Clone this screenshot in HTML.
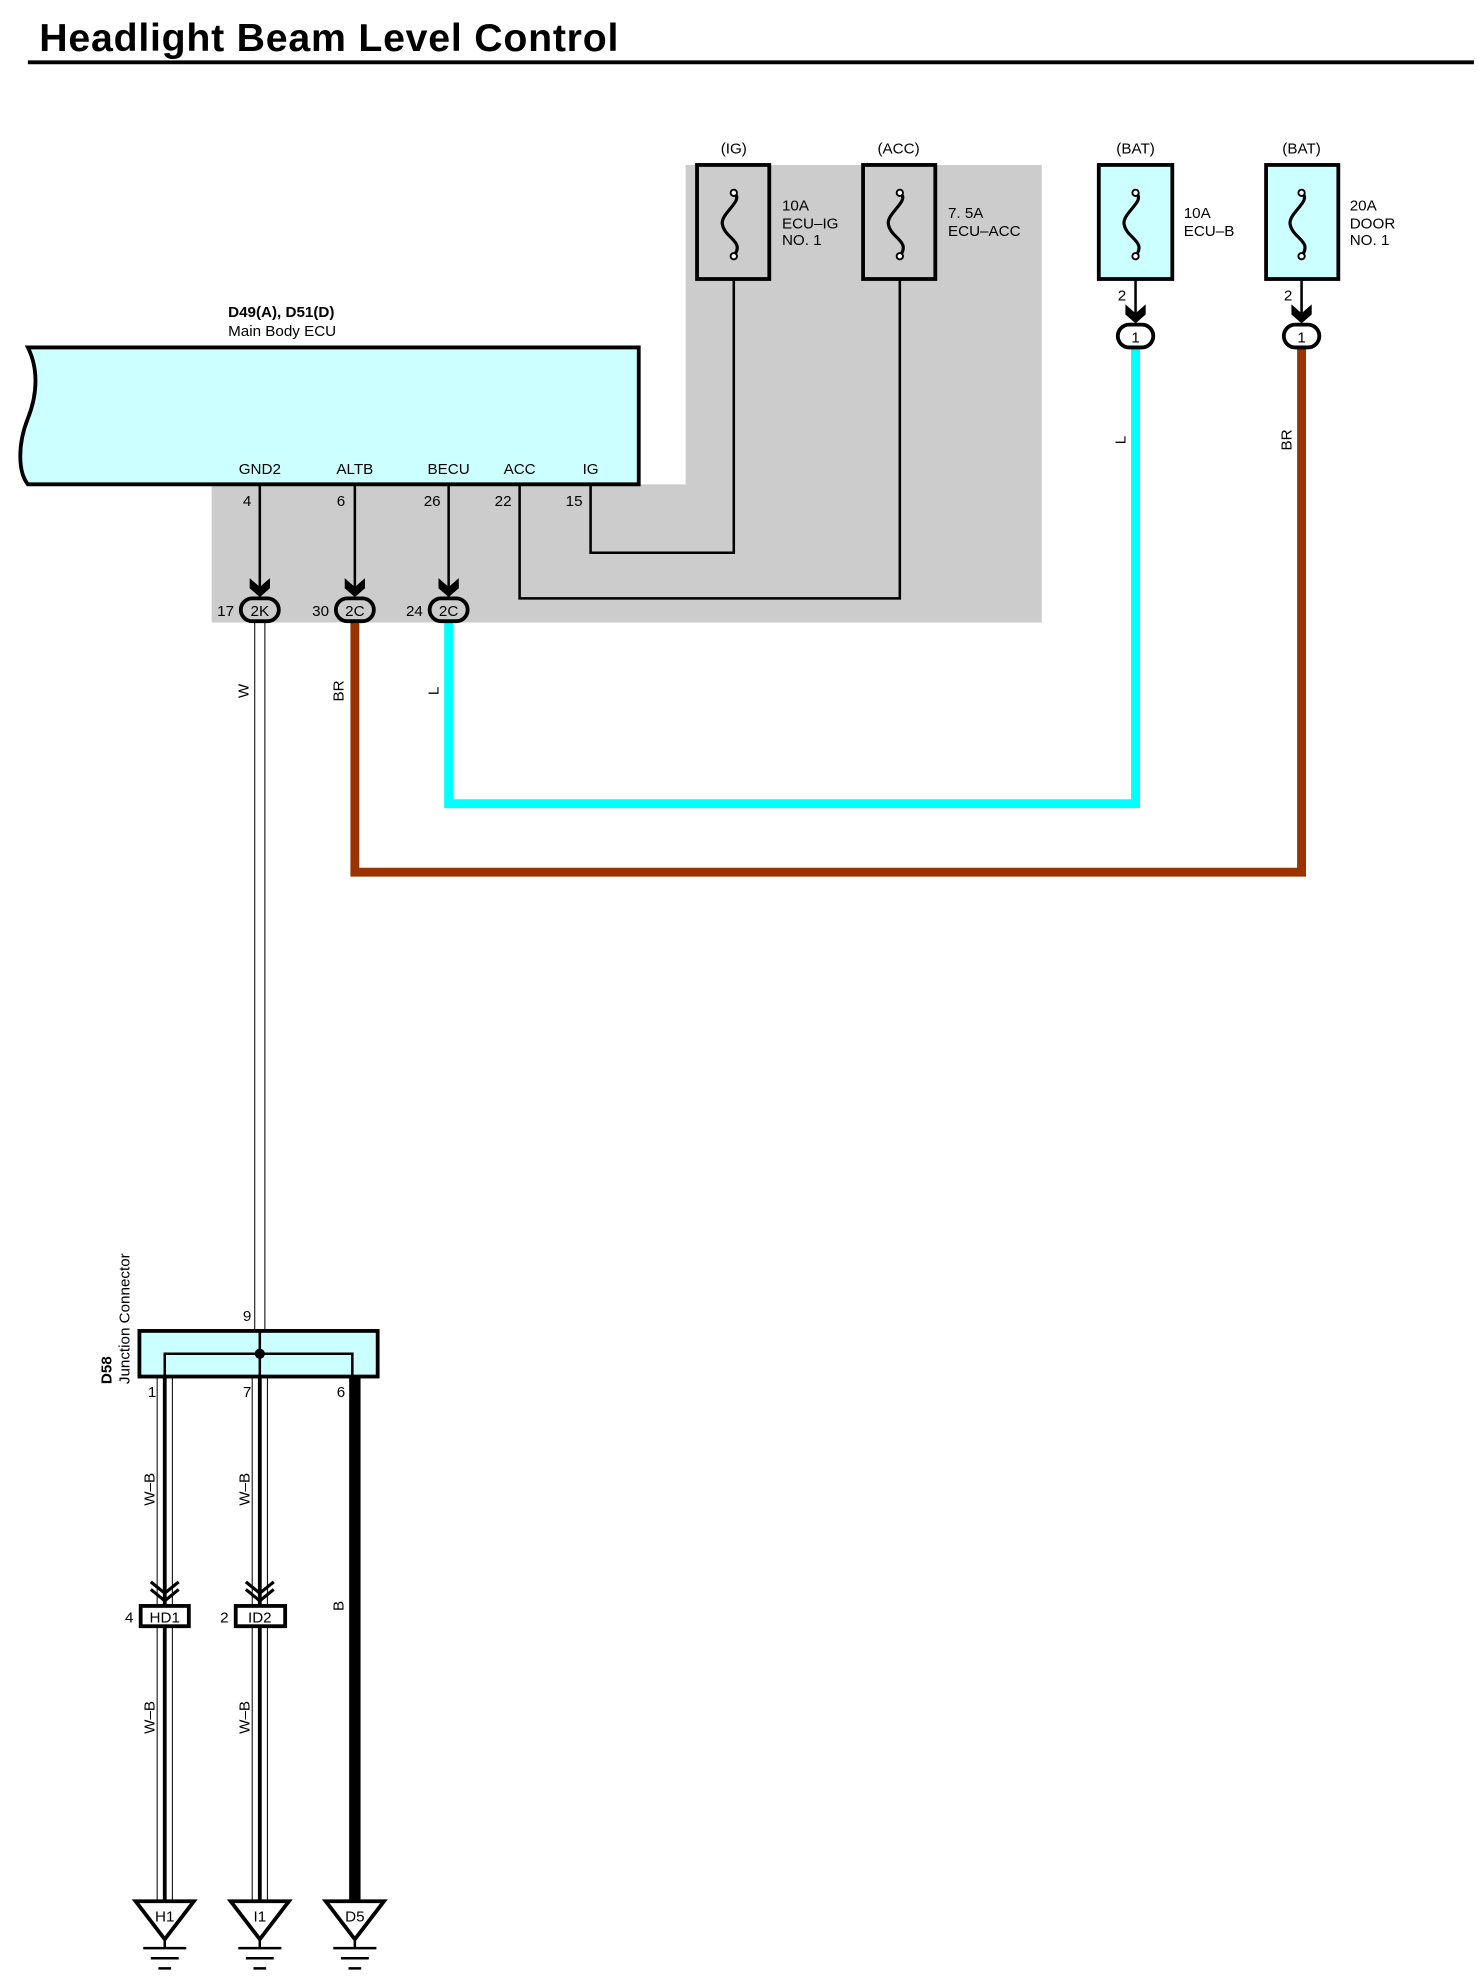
<!DOCTYPE html>
<html><head><meta charset="utf-8"><style>html,body{margin:0;padding:0;background:#fff}svg{display:block}</style></head>
<body>
<svg width="1479" height="1980" viewBox="0 0 1167 1562" xmlns="http://www.w3.org/2000/svg" font-family="Liberation Sans, sans-serif">
<rect width="1167" height="1562" fill="#fff"/>
<text x="31" y="40" font-size="31" font-weight="bold" letter-spacing="0.6">Headlight Beam Level Control</text>
<line x1="22" y1="49" x2="1163" y2="49" stroke="#000" stroke-width="3"/>
<polygon points="541,130 822,130 822,491 167,491 167,382 541,382" fill="#cccccc"/>
<!-- fuses -->
<g stroke="#000" stroke-width="3">
<rect x="550" y="130" width="57" height="90" fill="none"/>
<rect x="681" y="130" width="57" height="90" fill="none"/>
<rect x="867" y="130" width="58" height="90" fill="#ccffff"/>
<rect x="999" y="130" width="57" height="90" fill="#ccffff"/>
</g>
<g fill="none" stroke="#000" stroke-width="2.5">
<path d="M579,152 C588,158 568,168 570,177 C572,188 588,190 579,202"/>
<path d="M710,152 C719,158 699,168 701,177 C703,188 719,190 710,202"/>
<path d="M896,152 C905,158 885,168 887,177 C889,188 905,190 896,202"/>
<path d="M1027,152 C1036,158 1016,168 1018,177 C1020,188 1036,190 1027,202"/>
</g>
<g fill="#fff" stroke="#000" stroke-width="1.5">
<circle cx="579" cy="152" r="2.5"/><circle cx="579" cy="202" r="2.5"/>
<circle cx="710" cy="152" r="2.5"/><circle cx="710" cy="202" r="2.5"/>
<circle cx="896" cy="152" r="2.5"/><circle cx="896" cy="202" r="2.5"/>
<circle cx="1027" cy="152" r="2.5"/><circle cx="1027" cy="202" r="2.5"/>
</g>
<g font-size="12" text-anchor="middle">
<text x="579" y="121">(IG)</text><text x="709" y="121">(ACC)</text>
<text x="896" y="121">(BAT)</text><text x="1027" y="121">(BAT)</text>
</g>
<g font-size="12">
<text x="617" y="166">10A</text><text x="617" y="180">ECU–IG</text><text x="617" y="193">NO. 1</text>
<text x="748" y="172">7. 5A</text><text x="748" y="186">ECU–ACC</text>
<text x="934" y="172">10A</text><text x="934" y="186">ECU–B</text>
<text x="1065" y="166">20A</text><text x="1065" y="180">DOOR</text><text x="1065" y="193">NO. 1</text>
<text x="882" y="237">2</text><text x="1013" y="237">2</text>
</g>
<!-- ECU -->
<path d="M22,274 L504,274 L504,382 L22,382 C14,372 14,350 22,330 C30,310 30,290 22,274 Z" fill="#ccffff" stroke="#000" stroke-width="3"/>
<text x="180" y="250" font-size="12" font-weight="bold">D49(A), D51(D)</text>
<text x="180" y="265" font-size="12">Main Body ECU</text>
<g font-size="12" text-anchor="middle">
<text x="205" y="374">GND2</text><text x="280" y="374">ALTB</text><text x="354" y="374">BECU</text><text x="410" y="374">ACC</text><text x="466" y="374">IG</text>
<text x="195" y="399">4</text><text x="269" y="399">6</text><text x="341" y="399">26</text><text x="397" y="399">22</text><text x="453" y="399">15</text>
<text x="178" y="486">17</text><text x="253" y="486">30</text><text x="327" y="486">24</text>
</g>
<g fill="none" stroke="#000" stroke-width="2">
<path d="M205,382 V466 M280,382 V466 M354,382 V466"/>
<path d="M410,382 V472 H710 V220"/>
<path d="M466,382 V436 H579 V220"/>
<path d="M896,220 V250 M1027,220 V250"/>
</g>
<!-- arrows -->
<g fill="#000">
<path d="M197,456 L205,463 L213,456 L213,464 L205,471 L197,464Z"/>
<path d="M272,456 L280,463 L288,456 L288,464 L280,471 L272,464Z"/>
<path d="M346,456 L354,463 L362,456 L362,464 L354,471 L346,464Z"/>
<path d="M888,240 L896,247 L904,240 L904,248 L896,255 L888,248Z"/>
<path d="M1019,240 L1027,247 L1035,240 L1035,248 L1027,255 L1019,248Z"/>
</g>
<!-- colored wires -->
<path d="M896,274 V634 H354 V491" fill="none" stroke="#00ffff" stroke-width="7"/>
<path d="M1027,274 V688 H280 V491" fill="none" stroke="#993300" stroke-width="7"/>
<!-- W wire -->
<path d="M201,491 V1050 M209,491 V1050" stroke="#000" stroke-width="0.8" fill="none"/>
<!-- connectors -->
<g stroke="#000" stroke-width="3" fill="#ccc">
<rect x="190" y="472" width="30" height="18" rx="9"/>
<rect x="265" y="472" width="30" height="18" rx="9"/>
<rect x="339" y="472" width="30" height="18" rx="9"/>
<rect x="882" y="256" width="28" height="18" rx="9" fill="#fff"/>
<rect x="1013" y="256" width="28" height="18" rx="9" fill="#fff"/>
</g>
<g font-size="12" text-anchor="middle">
<text x="205" y="486">2K</text><text x="280" y="486">2C</text><text x="354" y="486">2C</text>
<text x="896" y="270">1</text><text x="1027" y="270">1</text>
</g>
<g font-size="12" text-anchor="middle">
<text transform="translate(888,347) rotate(-90)">L</text>
<text transform="translate(1019,347) rotate(-90)">BR</text>
<text transform="translate(196,545) rotate(-90)">W</text>
<text transform="translate(271,545) rotate(-90)">BR</text>
<text transform="translate(346,545) rotate(-90)">L</text>
<text transform="translate(122,1175) rotate(-90)">W–B</text>
<text transform="translate(197,1175) rotate(-90)">W–B</text>
<text transform="translate(122,1355) rotate(-90)">W–B</text>
<text transform="translate(197,1355) rotate(-90)">W–B</text>
<text transform="translate(271,1267) rotate(-90)">B</text>
</g>
<!-- junction -->
<rect x="110" y="1050" width="188" height="36" fill="#ccffff" stroke="#000" stroke-width="3"/>
<path d="M130,1086 V1068 H278 V1086 M205,1050 V1086" fill="none" stroke="#000" stroke-width="2"/>
<circle cx="205" cy="1068" r="4" fill="#000"/>
<text transform="translate(88,1092) rotate(-90)" font-size="12" font-weight="bold">D58</text>
<text transform="translate(102,1092) rotate(-90)" font-size="12">Junction Connector</text>
<g font-size="12" text-anchor="middle">
<text x="195" y="1042">9</text><text x="120" y="1102">1</text><text x="195" y="1102">7</text><text x="269" y="1102">6</text>
<text x="102" y="1280">4</text><text x="177" y="1280">2</text>
</g>
<!-- W-B wires -->
<g stroke="#000" fill="none">
<path d="M124,1086 V1500 M136,1086 V1500 M199,1086 V1500 M211,1086 V1500" stroke-width="0.8"/>
<path d="M130,1086 V1500 M205,1086 V1500" stroke-width="3"/>
<path d="M280,1086 V1500" stroke-width="9"/>
<path d="M119,1248 L130,1257 L141,1248 M119,1254 L130,1263 L141,1254 M194,1248 L205,1257 L216,1248 M194,1254 L205,1263 L216,1254" stroke-width="2.5"/>
</g>
<g stroke="#000" stroke-width="3" fill="#fff">
<rect x="111" y="1267" width="38" height="16"/>
<rect x="186" y="1267" width="39" height="16"/>
</g>
<g font-size="12" text-anchor="middle">
<text x="130" y="1280">HD1</text><text x="205" y="1280">ID2</text>
</g>
<!-- grounds -->
<g stroke="#000" stroke-width="3" fill="#fff">
<path d="M107,1500 H153 L130,1530Z"/>
<path d="M182,1500 H228 L205,1530Z"/>
<path d="M257,1500 H303 L280,1530Z"/>
</g>
<g stroke="#000" stroke-width="2">
<path d="M130,1530 V1537 M113,1537 H147 M119,1545 H141 M125,1553 H135"/>
<path d="M205,1530 V1537 M188,1537 H222 M194,1545 H216 M200,1553 H210"/>
<path d="M280,1530 V1537 M263,1537 H297 M269,1545 H291 M275,1553 H285"/>
</g>
<g font-size="12" text-anchor="middle">
<text x="130" y="1516">H1</text><text x="205" y="1516">I1</text><text x="280" y="1516">D5</text>
</g>
</svg>
</body></html>
